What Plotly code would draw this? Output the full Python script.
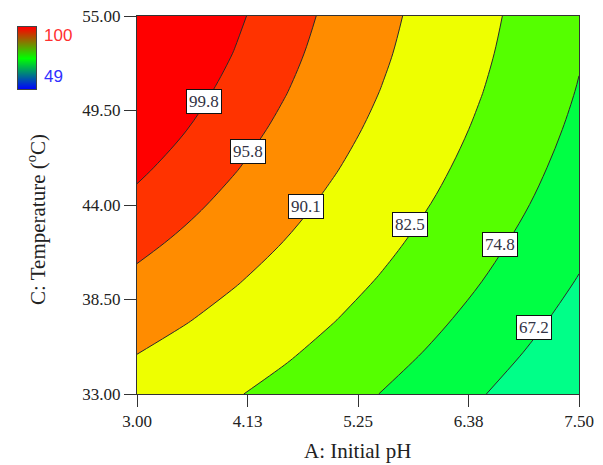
import plotly.graph_objects as go

# ---- data ----
ph = [3.0, 3.5, 4.0, 4.5, 5.0, 5.5, 6.0, 6.5, 7.0, 7.5]
temp = [33.0, 35.2, 37.4, 39.6, 41.8, 44.0, 46.2, 48.4, 50.6, 52.8, 55.0]
response = [
    [87.2, 85.21, 82.94, 80.42, 77.62, 74.56, 71.23, 67.64, 63.78, 59.65],
    [89.97, 87.96, 85.68, 83.14, 80.33, 77.25, 73.9, 70.29, 66.41, 62.27],
    [92.52, 90.49, 88.2, 85.64, 82.81, 79.71, 76.35, 72.72, 68.83, 64.67],
    [94.85, 92.81, 90.5, 87.92, 85.07, 81.96, 78.58, 74.94, 71.03, 66.85],
    [96.96, 94.9, 92.57, 89.98, 87.12, 83.99, 80.59, 76.93, 73.0, 68.81],
    [98.86, 96.78, 94.43, 91.82, 88.94, 85.79, 82.38, 78.7, 74.76, 70.54],
    [100.53, 98.43, 96.07, 93.44, 90.54, 87.38, 83.95, 80.26, 76.29, 72.06],
    [101.98, 99.86, 97.49, 94.84, 91.93, 88.75, 85.3, 81.59, 77.61, 73.36],
    [103.21, 101.08, 98.68, 96.02, 93.09, 89.89, 86.43, 82.7, 78.7, 74.44],
    [104.22, 102.07, 99.66, 96.98, 94.03, 90.82, 87.34, 83.59, 79.58, 75.3],
    [105.01, 102.85, 100.42, 97.72, 94.76, 91.53, 88.03, 84.27, 80.24, 75.94],
]
levels = [67.2, 74.8, 82.5, 90.1, 95.8, 99.8]
level_labels = ["67.2", "74.8", "82.5", "90.1", "95.8", "99.8"]
label_x = [7.045, 6.696, 5.779, 4.718, 4.133, 3.679]
label_y = [36.88, 41.71, 42.84, 43.90, 47.14, 50.01]
x_ticks = [3.0, 4.125, 5.25, 6.375, 7.5]
x_ticktext = ["3.00", "4.13", "5.25", "6.38", "7.50"]
y_ticks = [33.0, 38.5, 44.0, 49.5, 55.0]
y_ticktext = ["33.00", "38.50", "44.00", "49.50", "55.00"]
scale_min, scale_max = 49, 100

# ---- style ----
fills = ["#00FF44", "#55FF00", "#EEFF00", "#FF8C00", "#FF3300", "#FF0000"]
base_fill = "#00FF88"
W, H = 603, 465
# plot box in pixels
PL, PR, PT, PB = 137, 579, 16, 394
serif = "Liberation Serif, Times New Roman, serif"
sans = "Liberation Sans, Arial, sans-serif"


def fx(p):
    return p / W


def fy(p):
    return 1 - p / H


fig = go.Figure()
for lv, fc in zip(levels, fills):
    fig.add_trace(go.Contour(
        x=ph, y=temp, z=response, showscale=False,
        contours=dict(type="constraint", operation="<", value=lv),
        fillcolor=fc, line=dict(color="#2a2a2a", width=1),
        hoverinfo="skip"))

# colour legend: small vertical gradient
fig.add_trace(go.Heatmap(
    x=[0, 1], y=[0, 1], z=[[scale_min, scale_min], [scale_max, scale_max]],
    zmin=scale_min, zmax=scale_max, zsmooth="best", showscale=False,
    colorscale=[[0, "#0000FF"], [0.5, "#00FF00"], [1, "#FF0000"]],
    xaxis="x2", yaxis="y2", hoverinfo="skip"))

ann = []
for t, lx, ly in zip(level_labels, label_x, label_y):
    ann.append(dict(x=lx, y=ly, xref="x", yref="y", text=t, showarrow=False,
                    bgcolor="white", bordercolor="#111111", borderwidth=1,
                    borderpad=2, font=dict(family=serif, size=17, color="#333344")))
ann.append(dict(x=fx(42), y=fy(36), xref="paper", yref="paper", text=str(scale_max),
                showarrow=False, xanchor="left", yanchor="middle",
                font=dict(family=sans, size=17, color="#FF3030")))
ann.append(dict(x=fx(42), y=fy(77), xref="paper", yref="paper", text=str(scale_min),
                showarrow=False, xanchor="left", yanchor="middle",
                font=dict(family=sans, size=17, color="#3030FF")))
ann.append(dict(x=fx(357), y=fy(451), xref="paper", yref="paper", text="A: Initial pH",
                showarrow=False, xanchor="center", yanchor="middle",
                font=dict(family=serif, size=21, color="#222222")))
ann.append(dict(x=fx(36), y=fy(220), xref="paper", yref="paper",
                text="C: Temperature (<sup>o</sup>C)", textangle=-90,
                showarrow=False, xanchor="center", yanchor="middle",
                font=dict(family=serif, size=21, color="#222222")))

axis_common = dict(showgrid=False, zeroline=False, showline=True, linecolor="#333333",
                   linewidth=1, mirror=True, ticks="outside", ticklen=12,
                   tickcolor="#333333", tickwidth=1, automargin=False,
                   tickfont=dict(family=serif, size=17, color="#222222"))
legend_axis = dict(showgrid=False, zeroline=False, showline=True, linecolor="#444444",
                   linewidth=1, mirror=True, ticks="", showticklabels=False,
                   range=[0, 1], fixedrange=True, automargin=False)
fig.update_layout(
    width=W, height=H, margin=dict(l=0, r=0, t=0, b=0, autoexpand=False),
    plot_bgcolor=base_fill, paper_bgcolor="white", showlegend=False,
    xaxis=dict(domain=[fx(PL), fx(PR)], range=[3.0, 7.5], tickvals=x_ticks,
               ticktext=x_ticktext, **axis_common),
    yaxis=dict(domain=[fy(PB), fy(PT)], range=[33.0, 55.0], tickvals=y_ticks,
               ticktext=y_ticktext, **axis_common),
    xaxis2=dict(domain=[fx(18), fx(36)], anchor="y2", **legend_axis),
    yaxis2=dict(domain=[fy(89), fy(27)], anchor="x2", **legend_axis),
    annotations=ann)
fig.write_html("out.html", config={"displayModeBar": False},
               post_script="document.body.style.margin='0';")
